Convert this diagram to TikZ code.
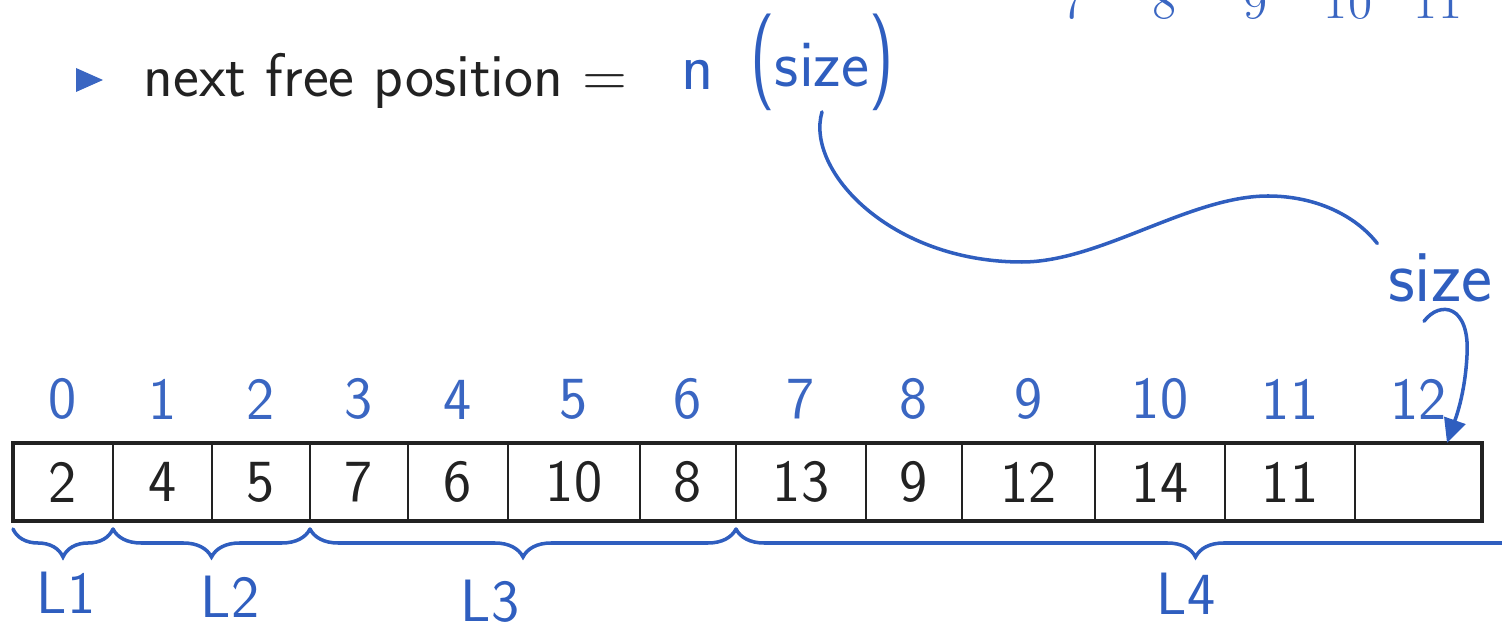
\documentclass[tikz,border=0pt]{standalone}
\usepackage{fontspec}
\usepackage{amsmath,amssymb}
\usepackage{xcolor}
\usepackage{tikz}
\usetikzlibrary{arrows.meta,positioning,calc,decorations.pathreplacing}
\definecolor{idxBlue}{HTML}{3A66C2}
\definecolor{penBlue}{HTML}{2F5EBF}
\definecolor{inkGray}{HTML}{222222}

\begin{document}
\begin{tikzpicture}[font=\sffamily,
  cell/.style={draw=inkGray, line width=0.5pt, minimum height=0.78cm, inner sep=0pt, outer sep=0pt, text=inkGray, font=\sffamily\fontsize{17}{20}\selectfont},
  idx/.style={text=idxBlue, inner sep=0pt, font=\sffamily\fontsize{17}{20}\selectfont},
  pen/.style={draw=penBlue, line width=1pt, line cap=round},
  hw/.style={text=penBlue, inner sep=0pt, font=\sffamily\fontsize{19}{22}\selectfont},
  brc/.style={pen, decorate, decoration={brace, mirror, amplitude=0.28cm, raise=0.08cm}}]
\useasboundingbox (0,0) rectangle (15.02,-6.30);
\clip (0,0) rectangle (15.02,-6.30);
\foreach \v/\x in {7/10.74,8/11.65,9/12.56,10/13.48,11/14.38}
  \node[text=idxBlue, inner sep=0pt, font=\rmfamily\fontsize{14}{16}\selectfont, anchor=base] (t\v) at (\x,-0.19) {\v};
\fill[idxBlue] (0.76,-0.68) -- (1.03,-0.80) -- (0.76,-0.92) -- cycle;
\node[anchor=base west, inner sep=0pt, text=inkGray, font=\sffamily\fontsize{17.5}{20}\selectfont] (nfp) at (1.43,-0.97) {next free position =};
\node[hw, anchor=base] (n) at (6.98,-0.90) {n};
\node[hw, anchor=base] (sz) at (8.22,-0.87) {\scalebox{1}[1.45]{(}size\scalebox{1}[1.45]{)}};
\node[hw, font=\sffamily\fontsize{21}{24}\selectfont, anchor=base] (lbl) at (14.40,-3.02) {size};
\node[cell, minimum width=1.00cm, anchor=north west] (c0) at (0.13,-4.43) {2};
\foreach \i/\j/\w/\v in {1/0/0.99/4,2/1/0.98/5,3/2/0.98/7,4/3/1.00/6,5/4/1.32/10,6/5/0.96/8,7/6/1.30/13,8/7/0.96/9,9/8/1.33/12,10/9/1.30/14,11/10/1.30/11,12/11/1.27/{}}
  \node[cell, minimum width=\w cm, anchor=west] (c\i) at (c\j.east) {\v};
\foreach \i in {0,...,12}
  \node[idx, above=0.23cm of c\i] (i\i) {\i};
\draw[draw=inkGray, line width=1pt] (c0.north west) rectangle (c12.south east);
\draw[pen] (sz.south) .. controls (8.05,-1.7) and (8.9,-2.62) .. (10.22,-2.62)
  .. controls (11.0,-2.62) and (11.9,-1.96) .. (12.68,-1.96)
  .. controls (13.15,-1.96) and (13.55,-2.15) .. ($(lbl.north west)+(-0.1,0.1)$);
\draw[pen, -{Triangle[length=0.24cm, width=0.22cm]}] ($(lbl.south)+(-0.16,-0.18)$)
  .. controls (14.40,-3.00) and (14.70,-3.05) .. (14.67,-3.55)
  .. controls (14.65,-3.95) and (14.55,-4.2) .. ($(c12.north east)+(-0.35,0)$);
\coordinate (e4) at (16.55,-5.21);
\draw[brc] (c0.south west) -- (c0.south east);
\draw[brc] (c1.south west) -- (c2.south east);
\draw[brc] (c3.south west) -- (c6.south east);
\draw[brc] (c7.south west) -- (e4);
\node[hw, font=\sffamily\fontsize{17}{20}\selectfont] (l1) at (0.66,-5.93) {L1};
\node[hw, font=\sffamily\fontsize{17}{20}\selectfont] (l2) at (2.30,-5.97) {L2};
\node[hw, font=\sffamily\fontsize{17}{20}\selectfont] (l3) at (4.90,-6.01) {L3};
\node[hw, font=\sffamily\fontsize{17}{20}\selectfont] (l4) at (11.86,-5.94) {L4};
\end{tikzpicture}
\end{document}
